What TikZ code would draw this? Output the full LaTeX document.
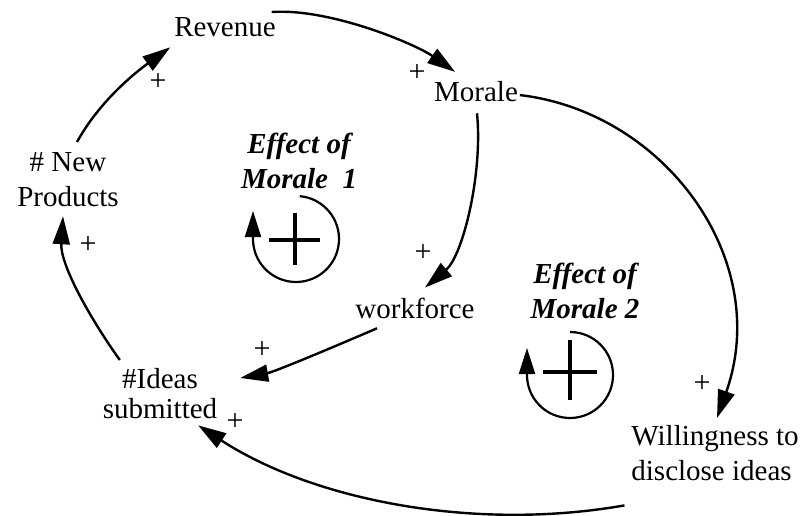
\documentclass[tikz,border=0pt]{standalone}
\usepackage{fontspec}
\setmainfont{Liberation Serif}
\usetikzlibrary{arrows.meta}
\begin{document}
\begin{tikzpicture}[x=1pt,y=1pt,
  lbl/.style={inner sep=0pt, outer sep=0pt, font=\fontsize{29}{35}\selectfont},
  loopname/.style={inner sep=0pt, outer sep=0pt, font=\fontsize{29}{35}\selectfont\bfseries\itshape, align=center, anchor=north},
  link/.style={line width=2.4pt, -{Triangle[length=28pt,width=17pt]}},
  sgn/.style={inner sep=0pt, outer sep=0pt, font=\fontsize{30}{32}\selectfont},
  loopring/.style={line width=2.2pt, -{Triangle[length=26pt,width=16pt]}},
  loopplus/.style={line width=3.5pt}]
\path[use as bounding box] (0,0) rectangle (808,-516);

% variables
\node[lbl, anchor=base] (rev) at (225,-37) {Revenue};
\node[lbl, anchor=base] (mor) at (476,-102) {Morale};
\node[lbl, anchor=base] (wf) at (415,-318) {workforce};
\node[lbl, anchor=north, align=center] (newp) at (68,-153) {\# New\\Products};
\node[lbl, anchor=north, align=center] (ideas) at (160,-368) {\#Ideas\\[-5pt]submitted};
\node[lbl, anchor=north, align=left] (will) at (715,-425) {Willingness to\\disclose ideas};

% loop names
\node[loopname] (e1) at (299,-133) {Effect of\\Morale\ \ 1};
\node[loopname] (e2) at (585,-263) {Effect of\\Morale 2};

% causal links
\draw[link] ([shift={(9,11)}]newp.north) .. controls +(22,40) and +(-36,-26) .. ([shift={(-4,-10)}]rev.south west);
\draw[link] ([shift={(-4,6)}]rev.north east) .. controls +(58,4) and +(-40,28) .. ([shift={(21,10)}]mor.north west);
\draw[link] ([shift={(2,-3)}]mor.east) .. controls +(145,-17) and +(56,158) .. ([shift={(2,7)}]will.north);
\draw[link] ([shift={(1,-11)}]mor.south) .. controls +(6,-60) and +(38,32) .. ([shift={(10,10)}]wf.north);
\draw[link] ([shift={(-38,-10)}]wf.south) .. controls +(-37,-16) and +(34,6) .. ([shift={(23,-10)}]ideas.north east);
\draw[link] ([shift={(-7,-25)}]will.south west) .. controls +(-148,-26) and +(117,-76) .. ([shift={(-19,-7)}]ideas.south east);
\draw[link] ([shift={(17,8)}]ideas.north west) .. controls +(-30,42) and +(-3,-48) .. ([shift={(-5,-9)}]newp.south);

% link polarities
\node[sgn] (s1) at (158,-82) {+};
\node[sgn] (s2) at (417,-73) {+};
\node[sgn] (s3) at (702,-384) {+};
\node[sgn] (s4) at (423,-253) {+};
\node[sgn] (s5) at (262,-350) {+};
\node[sgn] (s6) at (235,-422) {+};
\node[sgn] (s7) at (88,-245) {+};

% reinforcing loop markers
\coordinate (L1) at (296,-239);
\coordinate (X1) at (295,-240);
\draw[loopring] ([shift={(85:43)}]L1) arc[start angle=85, end angle=-180, radius=43] -- ++(0,28);
\draw[loopplus] ([xshift=-26]X1) -- ([xshift=25]X1) ([yshift=27]X1) -- ([yshift=-25]X1);

\coordinate (L2) at (570,-375);
\coordinate (X2) at (570,-372);
\draw[loopring] ([shift={(90:43)}]L2) arc[start angle=90, end angle=-180, radius=43] -- ++(0,27);
\draw[loopplus] ([xshift=-27]X2) -- ([xshift=27]X2) ([yshift=32]X2) -- ([yshift=-28]X2);
\end{tikzpicture}
\end{document}
